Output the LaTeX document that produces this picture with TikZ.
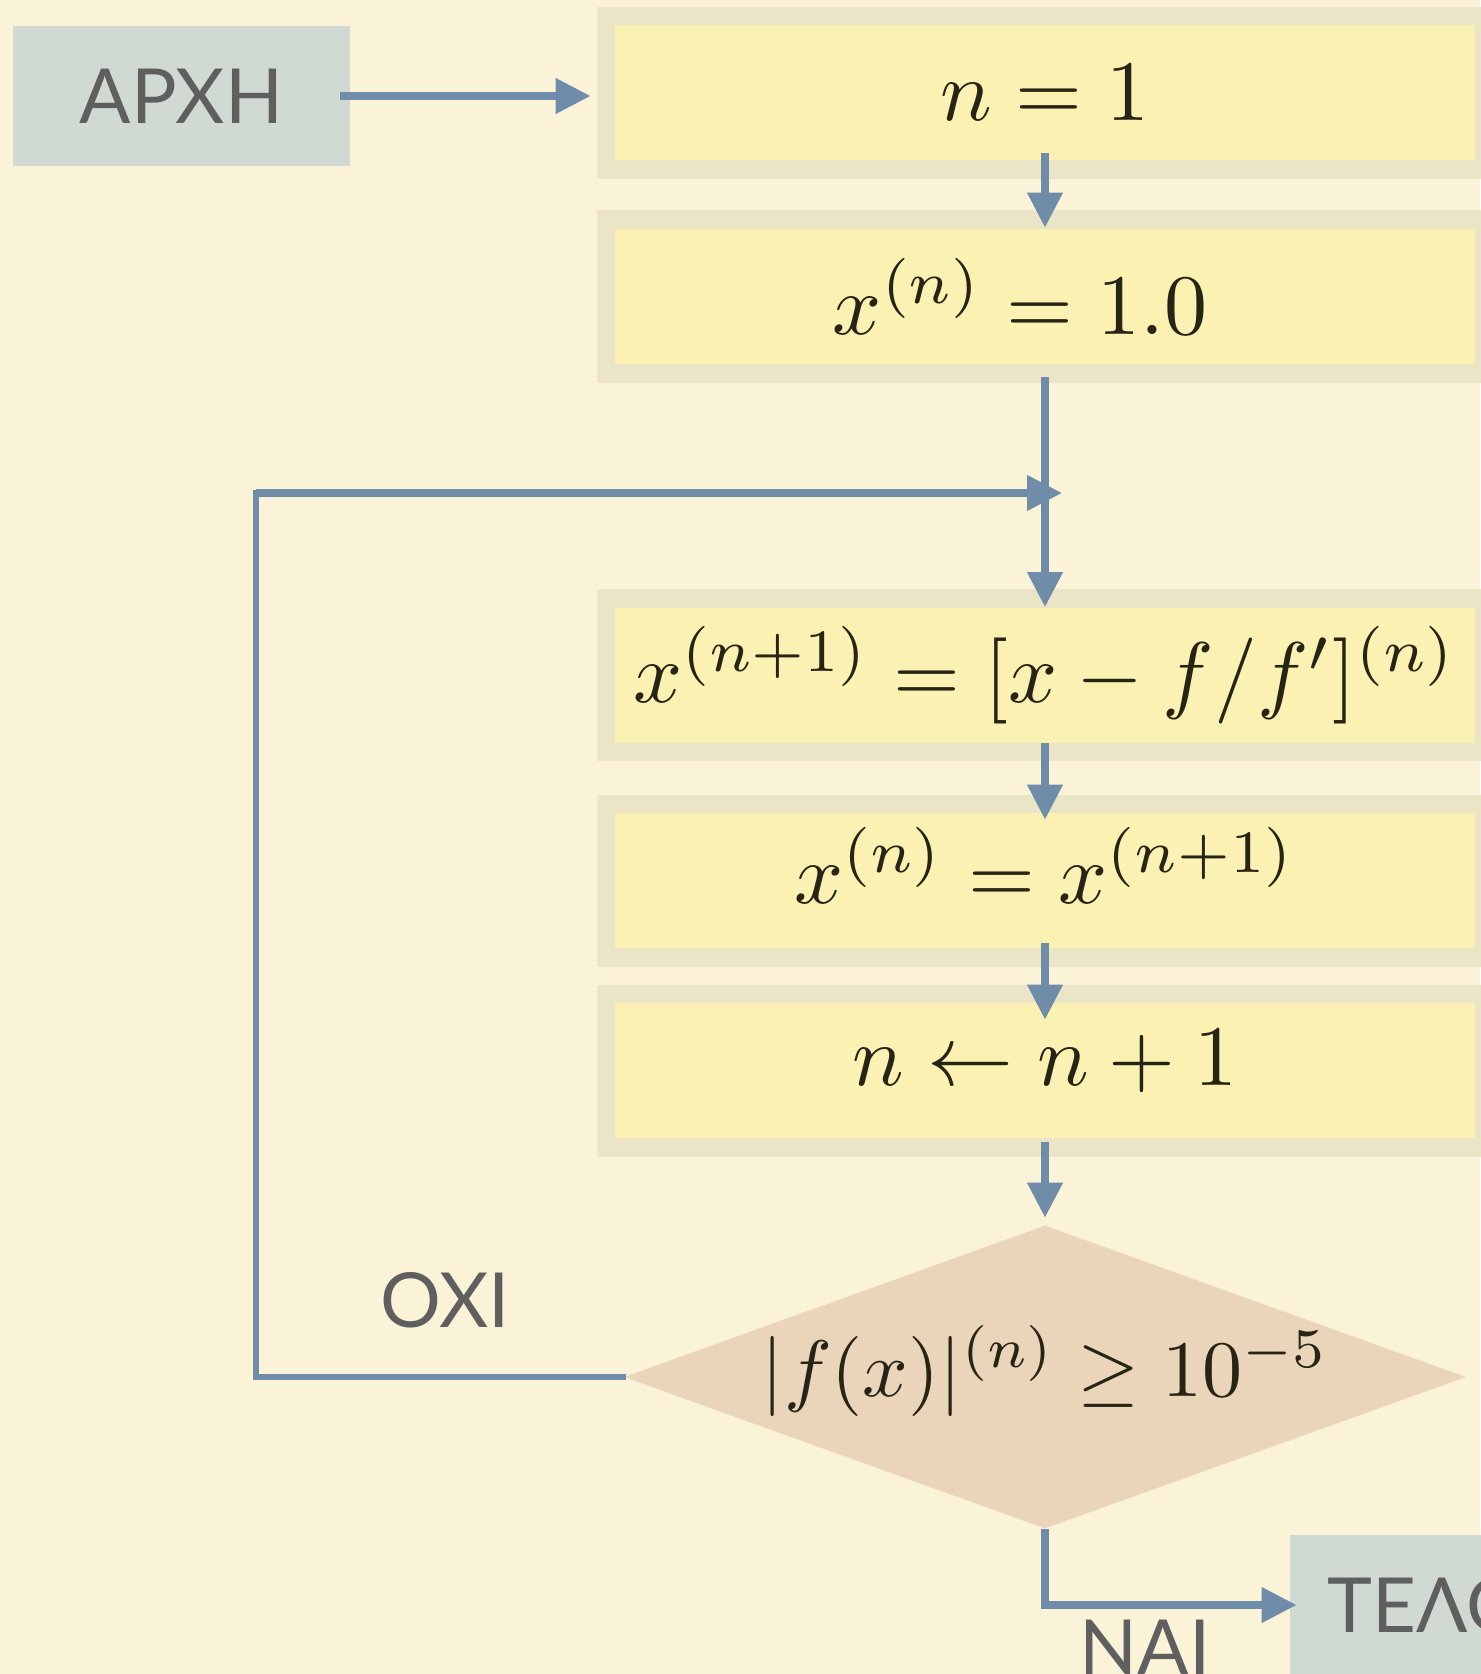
\RequirePackage{fix-cm}
\documentclass[tikz,border=0pt]{standalone}
\usepackage{fontspec}
\setsansfont{Lato}
\usetikzlibrary{arrows.meta,shapes.geometric}
\definecolor{bgcol}{RGB}{250,243,216}
\definecolor{termfill}{RGB}{208,218,211}
\definecolor{procfill}{RGB}{251,241,178}
\definecolor{procshadow}{RGB}{235,229,200}
\definecolor{decfill}{RGB}{234,212,186}
\definecolor{flowcol}{RGB}{111,140,168}
\definecolor{labelgray}{RGB}{95,95,95}
\definecolor{mathcol}{RGB}{38,36,20}
\newcommand{\fmath}[2]{\scalebox{#1}{\fontsize{10}{12}\selectfont$#2$}}
\begin{document}
\begin{tikzpicture}[x=0.5pt,y=-0.5pt,
  sanstext/.style={font=\fontsize{38}{46}\selectfont\sffamily, text=labelgray},
  termbox/.style={fill=termfill, minimum width=168.5pt, minimum height=70pt, inner sep=0pt, sanstext},
  procbox/.style={fill=procfill, preaction={draw=procshadow, line width=18.5pt}, minimum width=430pt, minimum height=67.5pt, inner sep=0pt, text=mathcol},
  decbox/.style={diamond, fill=decfill, minimum width=421pt, minimum height=151.5pt, inner sep=0pt},
  flow/.style={draw=flowcol, line width=3.7pt, -{Triangle[length=17.5pt,width=17pt]}},
  thinflow/.style={draw=flowcol, line width=2.6pt, line cap=rect}
]
\useasboundingbox (0,0) rectangle (1480,1674);
\fill[bgcol] (0,0) rectangle (1480,1674);

% nodes
\node[termbox] (start) at (181.5,96) {ΑΡΧΗ};
\node[procbox] (n1) at (1045,93) {\fmath{4.3}{n=1}};
\node[procbox] (xinit) at (1045,296.5) {\fmath{4.3}{x^{(n)}=1.0}\kern25pt\null};
\node[procbox] (newton) at (1045,675) {\fmath{4.3}{x^{(n+1)}=[x-f/f']^{(n)}}};
\node[procbox] (upd) at (1045,880.5) {\raisebox{15pt}{\fmath{4.3}{x^{(n)}=x^{(n+1)}}}};
\node[procbox] (inc) at (1045,1070.5) {\raisebox{13pt}{\fmath{4.3}{n\leftarrow n+1}}};
\node[decbox] (dec) at (1045,1377) {};
\node[text=mathcol, inner sep=0pt, yshift=3pt] (dectext) at (dec.center) {\fmath{4.0}{|f(x)|^{(n)}\geq 10^{-5}}};
\node[termbox, minimum width=160pt] (endn) at (1450,1605) {ΤΕΛΟΣ};
\node[sanstext] (no) at (445,1300) {ΟΧΙ};
\node[sanstext] (yes) at (1145,1647.5) {ΝΑΙ};

\coordinate (lc1) at (256,1377);
\coordinate (lc2) at (256,493);
\coordinate (merge) at (1062,493);

% connectors
\draw[flow, shorten <=-5pt, shorten >=12pt] (start.east) -- (start.east -| n1.west);
\draw[flow, shorten <=-3.75pt, shorten >=0.5pt] (n1.south) -- (xinit.north);
\draw[flow, shorten <=6.5pt] (xinit.south) -- (newton.north);
\draw[flow, shorten >=-3.5pt] (newton.south) -- (upd.north);
\draw[flow, shorten <=-2.5pt, shorten >=-8.5pt] (upd.south) -- (inc.north);
\draw[flow, shorten <=2pt, shorten >=3.75pt] (inc.south) -- (dec.north);
\draw[thinflow] (dec.west) -- (lc1) -- (lc2);
\draw[flow] (lc2) -- (merge);
\draw[flow, shorten >=-3.5pt] (dec.south) |- (endn.west);
\end{tikzpicture}
\end{document}
